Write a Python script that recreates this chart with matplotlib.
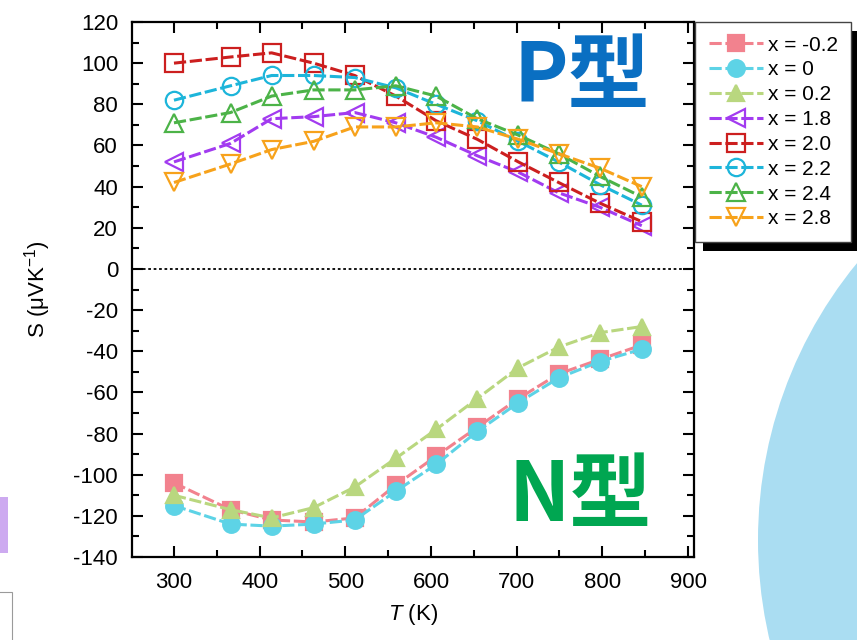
import numpy as np
import matplotlib
matplotlib.use("Agg")
import matplotlib.pyplot as plt
from matplotlib.patches import Rectangle, Ellipse

# ==========================================================
# Data
# ==========================================================

T = [300, 366, 414, 463, 511, 559, 606, 654, 702, 749, 797, 846]

# n-type samples (filled markers)
S_m02 = [-104, -117, -122, -123, -121, -105, -91, -77, -63, -51, -44, -37]
S_0 = [-115, -124, -125, -124, -122, -108, -95, -79, -65, -53, -45, -39]
S_02 = [-110, -117, -121, -116, -106, -92, -78, -63, -48, -38, -31, -28]

# p-type samples (open markers)
S_18 = [52, 61, 73, 74, 76, 71, 64, 55, 47, 37, 30, 21]
S_20 = [100, 103, 105, 100, 94, 84, 72, 63, 52, 42, 32, 23]
S_22 = [82, 89, 94, 94, 93, 88, 80, 72, 62, 52, 41, 31]
S_24 = [71, 76, 84, 87, 87, 89, 84, 73, 65, 56, 45, 35]
S_28 = [42, 51, 58, 62, 69, 69, 71, 69, 63, 56, 49, 40]

labels = ["x = -0.2", "x = 0", "x = 0.2", "x = 1.8",
          "x = 2.0", "x = 2.2", "x = 2.4", "x = 2.8"]

# ==========================================================
# Style
# ==========================================================

plt.rcParams["font.family"] = ["Liberation Sans", "DejaVu Sans"]
plt.rcParams["mathtext.fontset"] = "custom"
plt.rcParams["mathtext.rm"] = "Liberation Sans"
plt.rcParams["mathtext.it"] = "Liberation Sans:italic"
plt.rcParams["axes.unicode_minus"] = False

series = [
    (S_m02, "s", "#F2828E", True),
    (S_0, "o", "#5DD3E6", True),
    (S_02, "^", "#B9D77F", True),
    (S_18, "<", "#A23BF0", False),
    (S_20, "s", "#CC1F1F", False),
    (S_22, "o", "#1DB5DA", False),
    (S_24, "^", "#4CB348", False),
    (S_28, "v", "#F7A21B", False),
]

fig = plt.figure(figsize=(8.57, 6.4), dpi=100)

# decorative shapes around the chart
fig.patches.append(Ellipse((1195 / 857, 1 - 540 / 640), 2 * 437 / 857, 2 * 437 / 640,
                           transform=fig.transFigure, facecolor="#AADDF2",
                           edgecolor="none", zorder=0))
fig.patches.append(Rectangle((-0.01, 1 - 553 / 640), 0.019, 56 / 640,
                             transform=fig.transFigure, facecolor="#CDAAF0",
                             edgecolor="none", zorder=0))
fig.patches.append(Rectangle((-0.01, 1 - 700 / 640), 0.024, 108 / 640,
                             transform=fig.transFigure, facecolor="white",
                             edgecolor="#9A9A9A", linewidth=0.8, zorder=0))

ax = fig.add_axes([132 / 857, 1 - 557 / 640, 562 / 857, 535 / 640])

# ==========================================================
# Plot
# ==========================================================

handles = []

for (vals, marker, color, filled), label in zip(series, labels):

    line, = ax.plot(
        T,
        vals,
        linestyle=(0, (4, 1.2)),
        linewidth=2.2,
        color=color,
        marker=marker,
        markersize=12 if filled else 12.5,
        markerfacecolor=color if filled else "none",
        markeredgecolor=color,
        markeredgewidth=1.6,
        label=label,
    )

    handles.append(line)

ax.axhline(0, color="black", linestyle=(0, (1.5, 1.5)), linewidth=1.3, zorder=1)

ax.set_xlim(251, 907)
ax.set_ylim(-140, 120)

ax.set_xticks(np.arange(300, 901, 100))
ax.set_xticks(np.arange(350, 901, 100), minor=True)
ax.set_yticks(np.arange(-140, 121, 20))
ax.set_yticks(np.arange(-130, 120, 20), minor=True)

ax.tick_params(which="both", direction="in", top=True, right=True,
               width=1.5, labelsize=16)
ax.tick_params(which="major", length=8)
ax.tick_params(which="minor", length=5)
ax.tick_params(axis="y", pad=10)
ax.tick_params(axis="x", pad=11)

for spine in ax.spines.values():
    spine.set_linewidth(1.6)

ax.set_xlabel("$T$ (K)", fontsize=16, labelpad=6)
ax.set_ylabel("S (μVK$^{-1}$)", fontsize=16, labelpad=15)

# ==========================================================
# Type annotations
# ==========================================================

ax.text(0.80, 0.895, "P型", transform=ax.transAxes, ha="center", va="center",
        fontsize=59, fontweight="bold", color="#0A6FC2",
        family=["Noto Sans CJK SC", "DejaVu Sans"])

ax.text(0.797, 0.112, "N型", transform=ax.transAxes, ha="center", va="center",
        fontsize=59, fontweight="bold", color="#00A651",
        family=["Noto Sans CJK SC", "DejaVu Sans"])

# ==========================================================
# Legend with black drop shadow
# ==========================================================

leg = fig.legend(
    handles=handles,
    loc="upper left",
    bbox_to_anchor=(695 / 857, 1 - 22 / 640),
    bbox_transform=fig.transFigure,
    borderaxespad=0,
    fontsize=15,
    frameon=True,
    fancybox=False,
    framealpha=1,
    edgecolor="#444444",
    handlelength=2.6,
    handletextpad=0.25,
    labelspacing=0.28,
    borderpad=0.65,
)

leg.get_frame().set_linewidth(1.0)
leg.set_zorder(5)

fig.canvas.draw()

bb = leg.get_window_extent()

fig.patches.append(Rectangle((bb.x0 + 8, bb.y0 - 9), bb.width, bb.height,
                             transform=None, facecolor="black",
                             edgecolor="none", zorder=4))

fig.savefig("out.png", dpi=100)
